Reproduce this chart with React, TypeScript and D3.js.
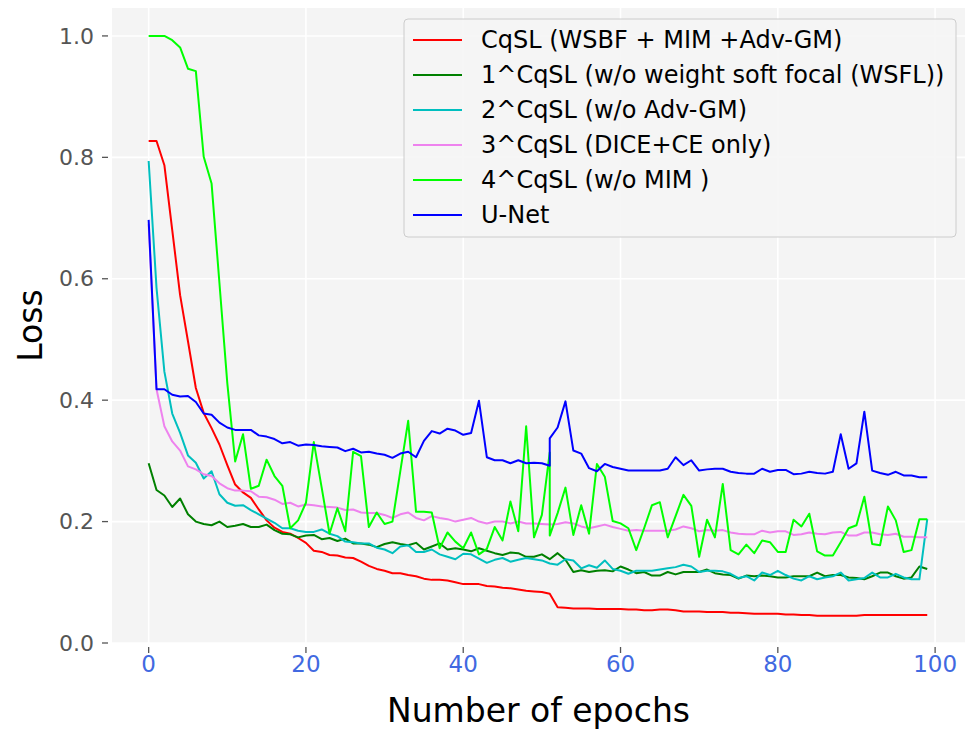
import React from 'react';
import * as d3 from 'd3';

// epoch 51 shows up twice in the logs (two values at the same x)
const epochs = [...d3.range(0, 52), ...d3.range(51, 100)];

const cqsl = [
  0.827, 0.827, 0.787, 0.680, 0.573, 0.497, 0.420, 0.379, 0.354, 0.327, 0.293, 0.261, 0.248, 0.239, 0.220, 0.202, 0.190, 0.183, 0.180, 0.173, 0.165, 0.152, 0.150, 0.145, 0.144,
  0.141, 0.140, 0.134, 0.127, 0.122, 0.119, 0.115, 0.115, 0.112, 0.110, 0.106, 0.104, 0.104, 0.103, 0.100, 0.097, 0.097, 0.097, 0.094, 0.093, 0.091, 0.090, 0.088, 0.086, 0.085, 0.084, 0.081, 0.081,
  0.059, 0.058, 0.057, 0.057, 0.057, 0.056, 0.056, 0.056, 0.056, 0.055, 0.055, 0.054, 0.054, 0.055, 0.055, 0.054, 0.052, 0.052, 0.052, 0.051, 0.051, 0.051, 0.050,
  0.050, 0.049, 0.048, 0.048, 0.048, 0.048, 0.047, 0.047, 0.046, 0.046, 0.045, 0.045, 0.045, 0.045, 0.045, 0.045, 0.046, 0.046, 0.046, 0.046, 0.046, 0.046, 0.046, 0.046, 0.046,
];

const noWsfl = [
  0.296, 0.252, 0.243, 0.224, 0.238, 0.212, 0.200, 0.196, 0.194, 0.200, 0.191, 0.193, 0.196, 0.191, 0.191, 0.195, 0.186, 0.180, 0.179, 0.174, 0.177, 0.178, 0.171, 0.173, 0.168,
  0.172, 0.164, 0.164, 0.162, 0.158, 0.163, 0.166, 0.163, 0.161, 0.165, 0.154, 0.159, 0.164, 0.154, 0.156, 0.154, 0.151, 0.156, 0.152, 0.148, 0.145, 0.149, 0.148, 0.142, 0.142, 0.146, 0.138, 0.138,
  0.148, 0.137, 0.117, 0.120, 0.117, 0.119, 0.120, 0.118, 0.126, 0.121, 0.115, 0.117, 0.111, 0.111, 0.117, 0.113, 0.117, 0.117, 0.117, 0.121, 0.115, 0.113, 0.112,
  0.106, 0.111, 0.110, 0.111, 0.110, 0.108, 0.108, 0.110, 0.110, 0.110, 0.116, 0.110, 0.112, 0.112, 0.108, 0.107, 0.105, 0.110, 0.116, 0.116, 0.110, 0.106, 0.108, 0.126, 0.122,
];

const noAdvGm = [
  0.794, 0.585, 0.447, 0.378, 0.346, 0.309, 0.297, 0.271, 0.283, 0.245, 0.231, 0.226, 0.227, 0.219, 0.212, 0.205, 0.198, 0.189, 0.189, 0.185, 0.183, 0.183, 0.187, 0.180, 0.176,
  0.167, 0.166, 0.164, 0.164, 0.157, 0.154, 0.148, 0.159, 0.161, 0.150, 0.150, 0.154, 0.146, 0.142, 0.138, 0.147, 0.146, 0.139, 0.132, 0.137, 0.140, 0.134, 0.137, 0.140, 0.138, 0.136, 0.131, 0.131,
  0.129, 0.138, 0.136, 0.123, 0.128, 0.124, 0.136, 0.122, 0.119, 0.114, 0.119, 0.119, 0.119, 0.121, 0.123, 0.125, 0.129, 0.126, 0.117, 0.119, 0.119, 0.118, 0.114,
  0.107, 0.110, 0.103, 0.116, 0.112, 0.119, 0.112, 0.106, 0.103, 0.110, 0.105, 0.108, 0.110, 0.116, 0.103, 0.105, 0.107, 0.116, 0.108, 0.108, 0.114, 0.108, 0.105, 0.105, 0.204,
];

const diceCe = [
  0.690, 0.418, 0.357, 0.332, 0.317, 0.291, 0.286, 0.278, 0.275, 0.263, 0.255, 0.251, 0.251, 0.250, 0.241, 0.240, 0.236, 0.229, 0.231, 0.225, 0.228, 0.227, 0.225, 0.224, 0.223,
  0.219, 0.220, 0.215, 0.214, 0.214, 0.211, 0.206, 0.212, 0.215, 0.206, 0.202, 0.209, 0.206, 0.204, 0.200, 0.203, 0.206, 0.200, 0.197, 0.200, 0.200, 0.197, 0.200, 0.197, 0.197, 0.196, 0.195, 0.195,
  0.196, 0.199, 0.197, 0.192, 0.189, 0.192, 0.195, 0.191, 0.188, 0.185, 0.186, 0.185, 0.185, 0.185, 0.185, 0.187, 0.192, 0.189, 0.184, 0.186, 0.185, 0.186, 0.182,
  0.180, 0.179, 0.179, 0.185, 0.182, 0.184, 0.184, 0.178, 0.179, 0.182, 0.180, 0.179, 0.182, 0.183, 0.177, 0.177, 0.182, 0.182, 0.179, 0.178, 0.180, 0.175, 0.175, 0.174, 0.174,
];

const noMim = [
  1.000, 1.000, 1.000, 0.993, 0.981, 0.946, 0.942, 0.801, 0.757, 0.593, 0.428, 0.299, 0.344, 0.254, 0.259, 0.302, 0.275, 0.259, 0.189, 0.202, 0.231, 0.331, 0.256, 0.180, 0.222,
  0.184, 0.315, 0.308, 0.191, 0.215, 0.196, 0.200, 0.283, 0.366, 0.216, 0.216, 0.215, 0.156, 0.182, 0.167, 0.156, 0.182, 0.146, 0.155, 0.191, 0.169, 0.233, 0.184, 0.357, 0.174, 0.211, 0.314, 0.177,
  0.214, 0.256, 0.178, 0.227, 0.180, 0.295, 0.274, 0.201, 0.197, 0.189, 0.153, 0.189, 0.227, 0.232, 0.174, 0.209, 0.244, 0.226, 0.142, 0.203, 0.174, 0.262, 0.153,
  0.146, 0.162, 0.148, 0.169, 0.166, 0.150, 0.150, 0.203, 0.192, 0.213, 0.151, 0.144, 0.144, 0.166, 0.189, 0.194, 0.241, 0.163, 0.161, 0.225, 0.202, 0.150, 0.153, 0.204, 0.204,
];

const unet = [
  0.697, 0.418, 0.418, 0.409, 0.406, 0.407, 0.397, 0.378, 0.376, 0.363, 0.355, 0.351, 0.351, 0.351, 0.342, 0.340, 0.336, 0.329, 0.331, 0.325, 0.327, 0.326, 0.324, 0.323, 0.322,
  0.316, 0.320, 0.314, 0.315, 0.312, 0.310, 0.305, 0.312, 0.315, 0.306, 0.333, 0.349, 0.345, 0.353, 0.350, 0.343, 0.346, 0.399, 0.306, 0.301, 0.301, 0.296, 0.301, 0.296, 0.297, 0.296, 0.292, 0.337,
  0.355, 0.398, 0.317, 0.312, 0.288, 0.283, 0.295, 0.290, 0.287, 0.284, 0.284, 0.284, 0.284, 0.284, 0.287, 0.306, 0.293, 0.301, 0.284, 0.286, 0.287, 0.287, 0.282,
  0.280, 0.279, 0.279, 0.287, 0.282, 0.285, 0.285, 0.278, 0.279, 0.282, 0.280, 0.279, 0.282, 0.344, 0.287, 0.296, 0.381, 0.284, 0.280, 0.277, 0.282, 0.276, 0.276, 0.273, 0.273,
];

const seriesNames = [
  'CqSL (WSBF + MIM +Adv-GM)',
  '1^CqSL (w/o weight soft focal (WSFL))',
  '2^CqSL (w/o Adv-GM)',
  '3^CqSL (DICE+CE only)',
  '4^CqSL (w/o MIM )',
  'U-Net',
];
const seriesValues = [cqsl, noWsfl, noAdvGm, diceCe, noMim, unet];
const seriesColors = ['#ff0000', '#008000', '#00bfbf', '#ee82ee', '#00ff00', '#0000ff'];

const xTicks = [0, 20, 40, 60, 80, 100];
const yTicks = [0.0, 0.2, 0.4, 0.6, 0.8, 1.0];

const W = 970;
const H = 729;
const plot = { left: 112, right: 965, top: 8, bottom: 643 };
const font = 'DejaVu Sans, sans-serif';

export default function App() {
  const x = d3.scaleLinear().domain([-4.66, 103.8]).range([plot.left, plot.right]);
  const y = d3.scaleLinear().domain([0, 1.046]).range([plot.bottom, plot.top]);

  const line = d3
    .line<number>()
    .x((_, i) => x(epochs[i]))
    .y((d) => y(d));

  const legend = { x: 404, y: 19, w: 552, h: 218, row: 35 };

  return (
    <div style={{ position: 'absolute', left: 0, top: 0 }}>
      <svg width={W} height={H} style={{ display: 'block', background: '#fff' }}>
        <rect x={plot.left} y={plot.top} width={plot.right - plot.left} height={plot.bottom - plot.top} fill="#f4f4f4" />
        {xTicks.map((t) => (
          <line key={'gx' + t} x1={x(t)} x2={x(t)} y1={plot.top} y2={plot.bottom} stroke="#fff" strokeWidth={1.6} />
        ))}
        {yTicks.map((t) => (
          <line key={'gy' + t} x1={plot.left} x2={plot.right} y1={y(t)} y2={y(t)} stroke="#fff" strokeWidth={1.6} />
        ))}

        {seriesValues.map((vals, k) => (
          <path key={seriesNames[k]} d={line(vals) || ''} fill="none" stroke={seriesColors[k]} strokeWidth={2} strokeLinejoin="round" />
        ))}

        {/* ticks + labels */}
        {xTicks.map((t) => (
          <g key={'tx' + t}>
            <line x1={x(t)} x2={x(t)} y1={plot.bottom + 4} y2={plot.bottom + 10} stroke="#555" strokeWidth={1.3} />
            <text x={x(t)} y={plot.bottom + 29} textAnchor="middle" fontFamily={font} fontSize={23} fill="#4169e1">
              {t}
            </text>
          </g>
        ))}
        {yTicks.map((t) => (
          <g key={'ty' + t}>
            <line x1={plot.left - 10} x2={plot.left - 4} y1={y(t)} y2={y(t)} stroke="#555" strokeWidth={1.3} />
            <text x={plot.left - 18} y={y(t)} dy="0.35em" textAnchor="end" fontFamily={font} fontSize={22} fill="#555">
              {t.toFixed(1)}
            </text>
          </g>
        ))}

        <text x={(plot.left + plot.right) / 2} y={722} textAnchor="middle" fontFamily={font} fontSize={33} fill="#000">
          Number of epochs
        </text>
        <text
          transform={`translate(42, ${(plot.top + plot.bottom) / 2}) rotate(-90)`}
          textAnchor="middle"
          fontFamily={font}
          fontSize={33}
          fill="#000"
        >
          Loss
        </text>

        <g>
          <rect x={legend.x} y={legend.y} width={legend.w} height={legend.h} rx={4} fill="#f4f4f4" fillOpacity={0.85} stroke="#cccccc" strokeWidth={1} />
          {seriesNames.map((name, k) => {
            const cy = legend.y + 21 + k * legend.row;
            return (
              <g key={'lg' + k}>
                <line x1={legend.x + 9} x2={legend.x + 58} y1={cy} y2={cy} stroke={seriesColors[k]} strokeWidth={2} />
                <text x={legend.x + 77} y={cy} dy="0.35em" fontFamily={font} fontSize={24} fill="#000">
                  {name}
                </text>
              </g>
            );
          })}
        </g>
      </svg>
    </div>
  );
}
